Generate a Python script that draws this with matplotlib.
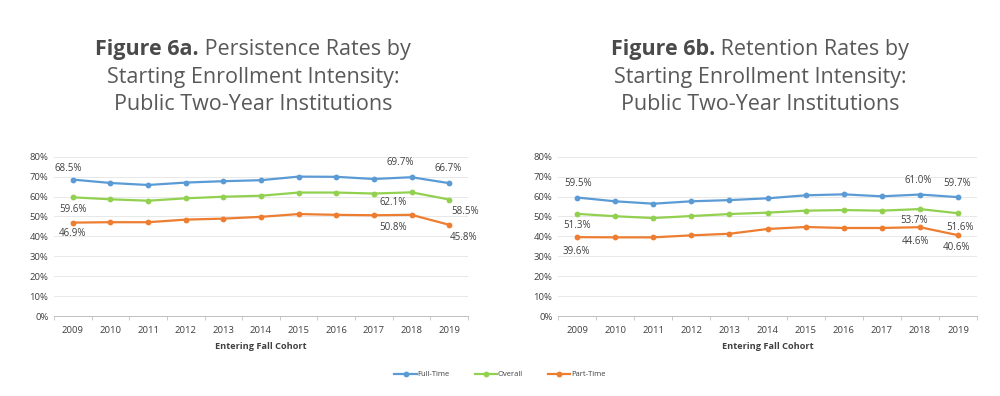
import matplotlib
matplotlib.use("Agg")
import matplotlib.pyplot as plt
from matplotlib.ticker import FuncFormatter, FixedLocator

years = ["2009", "2010", "2011", "2012", "2013", "2014", "2015", "2016", "2017", "2018", "2019"]
series_names = ["Full-Time", "Overall", "Part-Time"]

persist_full = [68.5, 66.8, 65.8, 67.0, 67.7, 68.2, 70.0, 69.9, 68.8, 69.7, 66.7]
persist_overall = [59.6, 58.6, 57.9, 59.1, 59.9, 60.4, 62.0, 62.0, 61.5, 62.1, 58.5]
persist_part = [46.9, 47.1, 47.1, 48.4, 48.9, 49.8, 51.2, 50.8, 50.6, 50.8, 45.8]

retain_full = [59.5, 57.6, 56.4, 57.6, 58.2, 59.1, 60.6, 61.1, 60.1, 61.0, 59.7]
retain_overall = [51.3, 50.1, 49.2, 50.2, 51.2, 51.9, 52.9, 53.2, 52.9, 53.7, 51.6]
retain_part = [39.6, 39.5, 39.5, 40.5, 41.3, 43.7, 44.7, 44.2, 44.2, 44.6, 40.6]

title_bold = ["Figure 6a.", "Figure 6b."]
title_rest = [" Persistence Rates by", " Retention Rates by"]
title_lines = ["Starting Enrollment Intensity:", "Public Two-Year Institutions"]
xlabel = "Entering Fall Cohort"

colors = ["#5B9BD5", "#92D050", "#ED7D31"]
TXT = "#404040"
FONT = ["Open Sans", "DejaVu Sans"]
plt.rcParams["font.family"] = FONT

# label offsets in pixels (dx, dy) for labeled points (index 0, 9, 10)
left_offsets = {
    0: [(-5, 11), (-11, 15), (-1, 15)],
    1: [(0, -12), (-18, -10), (16, -12)],
    2: [(0, -11), (-18, -13), (14, -13)],
}
right_offsets = {
    0: [(1, 14), (-2, 14), (-1, 14)],
    1: [(0, -12), (-6, -11), (2, -14)],
    2: [(-1, -14), (-4, -14), (-1, -12)],
}

fig = plt.figure(figsize=(10, 3.96), dpi=100)
W, H = 1000, 396

def px_ax(x0, x1, ytop, ybot):
    return [x0 / W, 1 - ybot / H, (x1 - x0) / W, (ybot - ytop) / H]

ax1 = fig.add_axes(px_ax(54, 468, 156.7, 316))
ax2 = fig.add_axes(px_ax(558, 977, 156.7, 316))

datasets = [
    (ax1, [persist_full, persist_overall, persist_part], left_offsets),
    (ax2, [retain_full, retain_overall, retain_part], right_offsets),
]

x = list(range(len(years)))
handles = []
for ax, series, offsets in datasets:
    for si, vals in enumerate(series):
        ln, = ax.plot(x, vals, color=colors[si], lw=1.6, marker="o", ms=4.2,
                      markeredgewidth=0, zorder=3)
        if ax is ax1:
            handles.append(ln)
        for k, idx in enumerate([0, 9, 10]):
            dx, dy = offsets[si][k]
            ax.annotate(f"{vals[idx]:.1f}%", (x[idx], vals[idx]),
                        xytext=(dx * 0.72, dy * 0.72), textcoords="offset points",
                        ha="center", va="center", fontsize=7.0, color=TXT)
    ax.set_ylim(0, 80)
    ax.set_xlim(-0.5, len(years) - 0.5)
    ax.set_yticks(range(0, 81, 10))
    ax.yaxis.set_major_formatter(FuncFormatter(lambda v, p: f"{v:.0f}%"))
    ax.set_xticks(x)
    ax.set_xticklabels(years)
    ax.xaxis.set_minor_locator(FixedLocator([i - 0.5 for i in range(len(years) + 1)]))
    ax.tick_params(axis="x", which="major", length=0, labelsize=6.8, labelcolor=TXT, pad=7)
    ax.tick_params(axis="x", which="minor", length=3, color="#BFBFBF", width=0.6)
    ax.tick_params(axis="y", length=0, labelsize=6.8, labelcolor=TXT, pad=4)
    ax.grid(axis="y", color="#E4E4E4", lw=0.6, zorder=0)
    ax.set_axisbelow(True)
    for s in ["top", "right", "left"]:
        ax.spines[s].set_visible(False)
    ax.spines["bottom"].set_color("#BFBFBF")
    ax.spines["bottom"].set_linewidth(0.7)
    ax.set_xlabel(xlabel, fontsize=6.6, fontweight="bold", color=TXT, labelpad=5)

# Titles
renderer = fig.canvas.get_renderer()
title_centers = [253, 760]
for i, cx in enumerate(title_centers):
    tb = fig.text(0, 0, title_bold[i], fontsize=15.5, fontweight="bold", color="#4A4A4A")
    tr = fig.text(0, 0, title_rest[i], fontsize=15.5, color="#595959")
    wb = tb.get_window_extent(renderer).width
    wr = tr.get_window_extent(renderer).width
    total = wb + wr
    x0 = cx - total / 2
    y1 = 1 - 49 / H
    tb.set_position((x0 / W, y1))
    tb.set_va("center")
    tr.set_position(((x0 + wb) / W, y1))
    tr.set_va("center")
    for j, line in enumerate(title_lines):
        fig.text(cx / W, 1 - (77 + 27 * j) / H, line, fontsize=15.5, color="#595959",
                 ha="center", va="center")

fig.legend(handles, series_names, loc="center", bbox_to_anchor=(0.5, 1 - 374.5 / H),
           ncol=3, frameon=False, fontsize=5.5, handlelength=2.9, columnspacing=3.3,
           handletextpad=0.1, labelcolor=TXT)

fig.savefig("out.png", dpi=100, facecolor="white")
